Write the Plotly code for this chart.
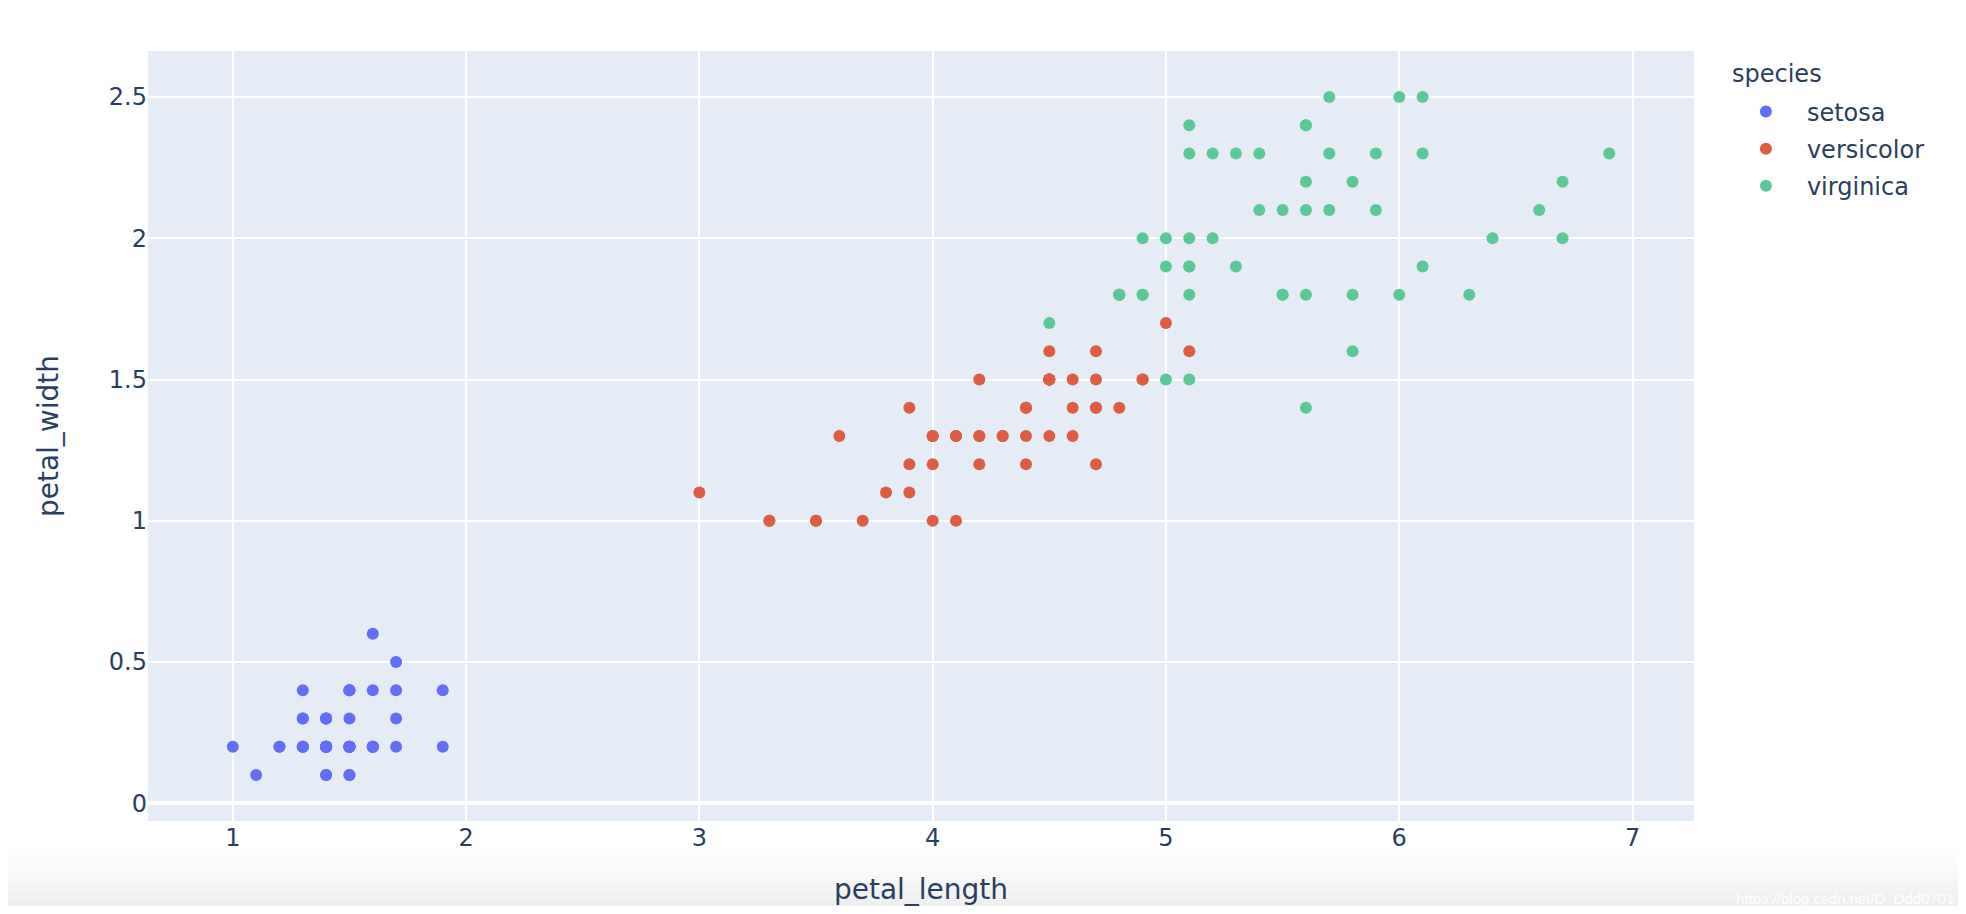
import plotly.graph_objects as go

species = ["setosa", "versicolor", "virginica"]
colors = ["#646ef5", "#dc5d44", "#5bc898"]

setosa_petal_length = [1.4,1.4,1.3,1.5,1.4,1.7,1.4,1.5,1.4,1.5,1.5,1.6,1.4,1.1,1.2,1.5,1.3,1.4,1.7,1.5,
                       1.7,1.5,1.0,1.7,1.9,1.6,1.6,1.5,1.4,1.6,1.6,1.5,1.5,1.4,1.5,1.2,1.3,1.4,1.3,1.5,
                       1.3,1.3,1.3,1.6,1.9,1.4,1.6,1.4,1.5,1.4]
setosa_petal_width = [0.2,0.2,0.2,0.2,0.2,0.4,0.3,0.2,0.2,0.1,0.2,0.2,0.1,0.1,0.2,0.4,0.4,0.3,0.3,0.3,
                      0.2,0.4,0.2,0.5,0.2,0.2,0.4,0.2,0.2,0.2,0.2,0.4,0.1,0.2,0.2,0.2,0.2,0.1,0.2,0.2,
                      0.3,0.3,0.2,0.6,0.4,0.3,0.2,0.2,0.2,0.2]
versicolor_petal_length = [4.7,4.5,4.9,4.0,4.6,4.5,4.7,3.3,4.6,3.9,3.5,4.2,4.0,4.7,3.6,4.4,4.5,4.1,4.5,3.9,
                           4.8,4.0,4.9,4.7,4.3,4.4,4.8,5.0,4.5,3.5,3.8,3.7,3.9,5.1,4.5,4.5,4.7,4.4,4.1,4.0,
                           4.4,4.6,4.0,3.3,4.2,4.2,4.2,4.3,3.0,4.1]
versicolor_petal_width = [1.4,1.5,1.5,1.3,1.5,1.3,1.6,1.0,1.3,1.4,1.0,1.5,1.0,1.4,1.3,1.4,1.5,1.0,1.5,1.1,
                          1.8,1.3,1.5,1.2,1.3,1.4,1.4,1.7,1.5,1.0,1.1,1.0,1.2,1.6,1.5,1.6,1.5,1.3,1.3,1.3,
                          1.2,1.4,1.2,1.0,1.3,1.2,1.3,1.3,1.1,1.3]
virginica_petal_length = [6.0,5.1,5.9,5.6,5.8,6.6,4.5,6.3,5.8,6.1,5.1,5.3,5.5,5.0,5.1,5.3,5.5,6.7,6.9,5.0,
                          5.7,4.9,6.7,4.9,5.7,6.0,4.8,4.9,5.6,5.8,6.1,6.4,5.6,5.1,5.6,6.1,5.6,5.5,4.8,5.4,
                          5.6,5.1,5.1,5.9,5.7,5.2,5.0,5.2,5.4,5.1]
virginica_petal_width = [2.5,1.9,2.1,1.8,2.2,2.1,1.7,1.8,1.8,2.5,2.0,1.9,2.1,2.0,2.4,2.3,1.8,2.2,2.3,1.5,
                         2.3,2.0,2.0,1.8,2.1,1.8,1.8,1.8,2.1,1.6,1.9,2.0,2.2,1.5,1.4,2.3,2.4,1.8,1.8,2.1,
                         2.4,2.3,1.9,2.3,2.5,2.3,1.9,2.0,2.3,1.8]

x_series = [setosa_petal_length, versicolor_petal_length, virginica_petal_length]
y_series = [setosa_petal_width, versicolor_petal_width, virginica_petal_width]

FONT = "Verdana, 'DejaVu Sans', sans-serif"
TXT = "#2a3f5f"

fig = go.Figure()
for name, c, xs, ys in zip(species, colors, x_series, y_series):
    fig.add_trace(go.Scatter(x=xs, y=ys, mode="markers", name=name, legendgroup=name,
                             marker=dict(color=c, size=12)))

# bottom window gradient (decoration)
n = 24
top, bot = -0.036, -0.1155
step = (top - bot) / n
for i in range(n):
    y1 = top - i * step
    a = ((i + 1) / n) ** 1.4 * 0.72
    fig.add_shape(type="rect", xref="paper", yref="paper",
                  x0=-0.2, x1=1.3, y0=y1 - step, y1=y1,
                  line_width=0, fillcolor=f"rgba(228,228,228,{a:.3f})", layer="below")

fig.add_annotation(text="https://blog.csdn.net/D_Ddd0701", xref="paper", yref="paper",
                   x=1.0, xanchor="right", xshift=262, y=-0.1, yanchor="middle",
                   showarrow=False, font=dict(family="Arial, 'Liberation Sans'", size=15,
                                              color="rgba(255,255,255,0.95)"))

fig.add_annotation(text="species", xref="paper", yref="paper",
                   x=1.0233, xanchor="left", y=0.9701, yanchor="middle",
                   showarrow=False, font=dict(size=24, color=TXT))

fig.update_layout(
    width=1950, height=898,
    template="plotly",
    font=dict(family=FONT, size=24, color=TXT),
    margin=dict(l=140, r=264, t=43, b=85),
    legend=dict(font=dict(size=24), itemwidth=72, tracegroupgap=2.9,
                x=1.02, xanchor="left", y=0.950, yanchor="top"),
    xaxis=dict(title=dict(text="petal_length", font=dict(size=28), standoff=35),
               gridwidth=2, zerolinewidth=4, tickfont=dict(size=24)),
    yaxis=dict(title=dict(text="petal_width", font=dict(size=28), standoff=42),
               gridwidth=2, zerolinewidth=4, tickfont=dict(size=24)),
)
fig.update_xaxes(automargin=False)
fig.update_yaxes(automargin=False)
fig.write_html("out.html")
